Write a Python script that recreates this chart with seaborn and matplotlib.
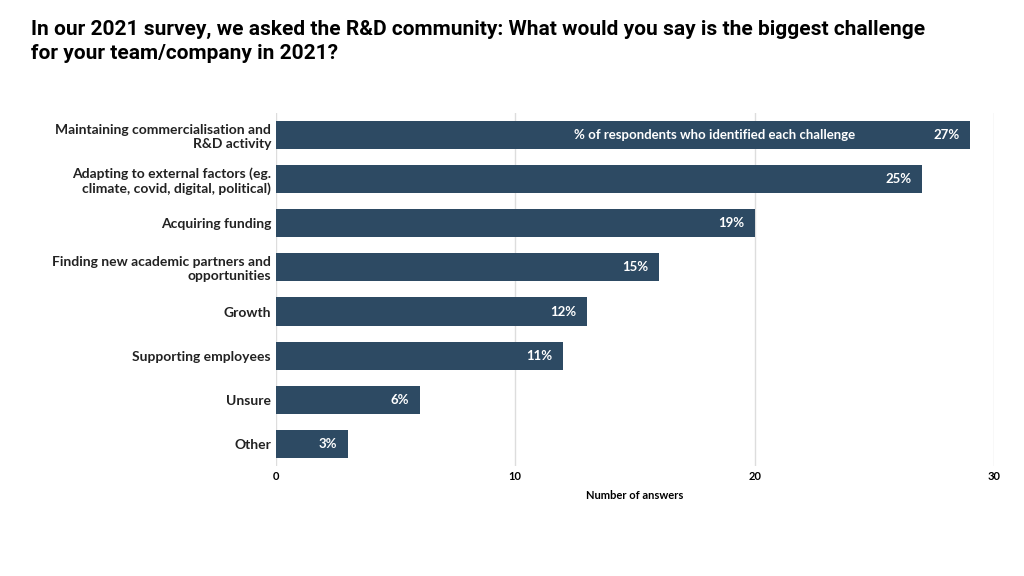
import matplotlib
matplotlib.use("Agg")
import matplotlib.pyplot as plt
import seaborn as sns
import pandas as pd

# data
challenges = [
    "Maintaining commercialisation and\nR&D activity",
    "Adapting to external factors (eg.\nclimate, covid, digital, political)",
    "Acquiring funding",
    "Finding new academic partners and\nopportunities",
    "Growth",
    "Supporting employees",
    "Unsure",
    "Other",
]
answers = [29, 27, 20, 16, 13, 12, 6, 3]
pct_labels = ["27%", "25%", "19%", "15%", "12%", "11%", "6%", "3%"]

df = pd.DataFrame({"challenge": challenges, "answers": answers})

plt.rcParams["font.family"] = "Lato"
fig = plt.figure(figsize=(10.24, 5.76), dpi=100)
ax = fig.add_axes([0.2695, 0.191, 0.7012, 0.613])

sns.barplot(data=df, x="answers", y="challenge", color="#2d4a63",
            saturation=1, width=0.64, ax=ax, zorder=2)

for i, (v, lab) in enumerate(zip(answers, pct_labels)):
    ax.text(v - 0.45, i, lab, ha="right", va="center", color="white",
            fontsize=9.5, fontweight="bold", zorder=3)
ax.text(24.2, 0, "% of respondents who identified each challenge", ha="right",
        va="center", color="white", fontsize=9.5, fontweight="bold", zorder=3)

ax.set_xlim(0, 30)
ax.set_xticks([0, 10, 20, 30])
ax.grid(axis="x", color="#dddddd", linewidth=1, zorder=0)
ax.grid(axis="y", visible=False)
for s in ax.spines.values():
    s.set_visible(False)
ax.tick_params(length=0)
ax.set_ylabel("")
ax.set_xlabel("Number of answers", fontsize=8, fontweight="bold", labelpad=6)
for t in ax.get_xticklabels():
    t.set_fontweight("bold")
    t.set_fontsize(8)
for t in ax.get_yticklabels():
    t.set_fontweight("bold")
    t.set_fontsize(10)
    t.set_color("#222222")

fig.text(0.03, 0.965, "In our 2021 survey, we asked the R&D community: What would you say is the biggest challenge\nfor your team/company in 2021?",
         ha="left", va="top", fontsize=15, fontweight="bold", family="Roboto",
         linespacing=1.3)

fig.savefig("out.png", dpi=100)
